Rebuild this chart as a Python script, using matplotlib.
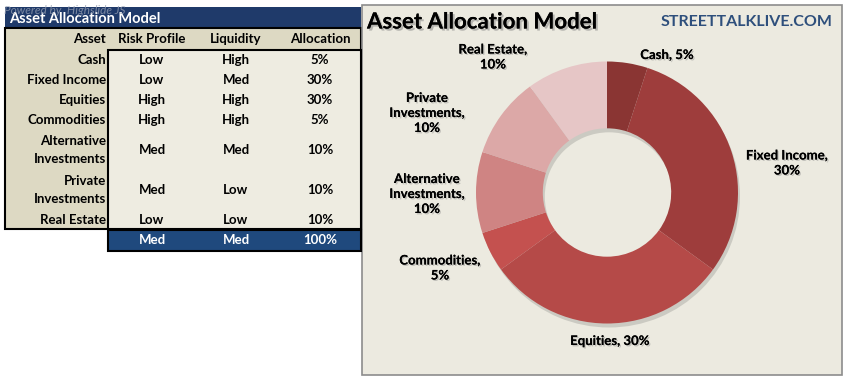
import numpy as np
import matplotlib.pyplot as plt
import matplotlib.patheffects as pe
from matplotlib.patches import Rectangle

# --- data ---
assets = ["Cash", "Fixed Income", "Equities", "Commodities",
          "Alternative\nInvestments", "Private\nInvestments", "Real Estate"]
risk = ["Low", "Low", "High", "High", "Med", "Med", "Low"]
liquidity = ["High", "Med", "High", "High", "Med", "Low", "Low"]
allocation = [5, 30, 30, 5, 10, 10, 10]
total_row = ["Med", "Med", "100%"]
pie_labels = ["Cash, 5%", "Fixed Income,\n30%", "Equities, 30%", "Commodities,\n5%",
              "Alternative\nInvestments,\n10%", "Private\nInvestments,\n10%", "Real Estate,\n10%"]

# --- layout / style ---
W, H = 849, 383
colors = ["#8a3533", "#9e3d3c", "#b54a48", "#c4514f", "#cf8483", "#dca8a7", "#e6c6c6"]
label_pos = [(667, 55), (787, 163), (610, 341), (440, 268), (427, 194), (427, 113), (493, 57)]
row_y = [60, 80, 100, 120, 150, 190, 220]
col_x = [152, 236, 320]
navy = "#1f3a6a"
blue = "#1f497d"
beige = "#ddd9c3"
light = "#eeece1"
FONT = "Lato"
R = 131
CX, CY = 607, 192.5

plt.rcParams['font.family'] = [FONT, 'DejaVu Sans']

fig = plt.figure(figsize=(W / 100, H / 100), dpi=100)
fig.patch.set_facecolor("white")
ax = fig.add_axes([0, 0, 1, 1])


def Y(y):
    return H - y


def rect(x0, y0, x1, y1, fc, ec="none", lw=0, z=1):
    ax.add_patch(Rectangle((x0, Y(y1)), x1 - x0, y1 - y0, fc=fc, ec=ec, lw=lw, zorder=z))


# ---------- table ----------
rect(5, 7, 361, 28, navy, z=1)
rect(5, 28, 361, 229, beige, ec="black", lw=1.5, z=1)
rect(108, 50, 361, 229, light, ec="black", lw=1.5, z=2)
rect(108, 230, 361, 251, blue, ec="black", lw=1.5, z=2)

ax.text(9, Y(19), "Asset Allocation Model", color="white", fontsize=10.5, fontweight="bold",
        va="center", ha="left", zorder=5)
# watermark overlapping the title bar, as in the original screenshot
ax.text(4, Y(10), "Powered by  Highslide JS", color="#9aa3b5", fontsize=8.5, style="italic",
        va="center", ha="left", zorder=6, alpha=0.75)

ax.text(106, Y(39), "Asset", fontsize=9.5, fontweight="bold", ha="right", va="center", zorder=5)
for x, h in zip(col_x, ["Risk Profile", "Liquidity", "Allocation"]):
    ax.text(x, Y(39), h, fontsize=9.5, fontweight="bold", ha="center", va="center", zorder=5)

for i, name in enumerate(assets):
    y = row_y[i]
    ax.text(106, Y(y), name, fontsize=9.5, fontweight="bold", ha="right", va="center",
            linespacing=1.55, zorder=5)
    vals = [risk[i], liquidity[i], f"{allocation[i]}%"]
    for x, v in zip(col_x, vals):
        ax.text(x, Y(y), v, fontsize=9.5, fontweight="bold", ha="center", va="center", zorder=5)

for x, v in zip(col_x, total_row):
    ax.text(x, Y(240.5), v, color="white", fontsize=9.5, fontweight="bold",
            ha="center", va="center", zorder=5)

# ---------- chart panel ----------
rect(362, 5, 842, 375, "#eceae0", ec="#8c8c8c", lw=1.2, z=1)
ax.text(367, Y(22), "Asset Allocation Model", fontsize=16, fontweight="bold", ha="left",
        va="center", zorder=5,
        path_effects=[pe.withSimplePatchShadow(offset=(1.5, -1.5), shadow_rgbFace="gray", alpha=0.5),
                      pe.Normal()])
ax.text(832, Y(22), "STREETTALKLIVE.COM", fontsize=11.5, fontweight="bold", color="#2e4f7c",
        ha="right", va="center", zorder=5)

# soft shadow ring under the donut
shadow, _ = ax.pie([1], colors=["#8f8f8a"], radius=R, center=(CX + 2, Y(CY) - 4), frame=True,
                   wedgeprops=dict(width=R * 0.51, linewidth=0))
for s in shadow:
    s.set_alpha(0.35)
    s.set_zorder(2)

wedges, _ = ax.pie(allocation, colors=colors, startangle=90, counterclock=False,
                   radius=R, center=(CX, Y(CY)), frame=True,
                   wedgeprops=dict(width=R * 0.51, linewidth=0))
for w in wedges:
    w.set_zorder(3)

ax.set_xlim(0, W)
ax.set_ylim(0, H)
ax.set_aspect("equal")
ax.axis("off")

for (x, y), lab in zip(label_pos, pie_labels):
    ax.text(x, Y(y), lab, fontsize=9.5, fontweight="bold", ha="center", va="center",
            linespacing=1.3, zorder=6,
            path_effects=[pe.withSimplePatchShadow(offset=(1, -1), shadow_rgbFace="gray", alpha=0.4),
                          pe.Normal()])

fig.savefig("out.png", dpi=100, facecolor="white")
